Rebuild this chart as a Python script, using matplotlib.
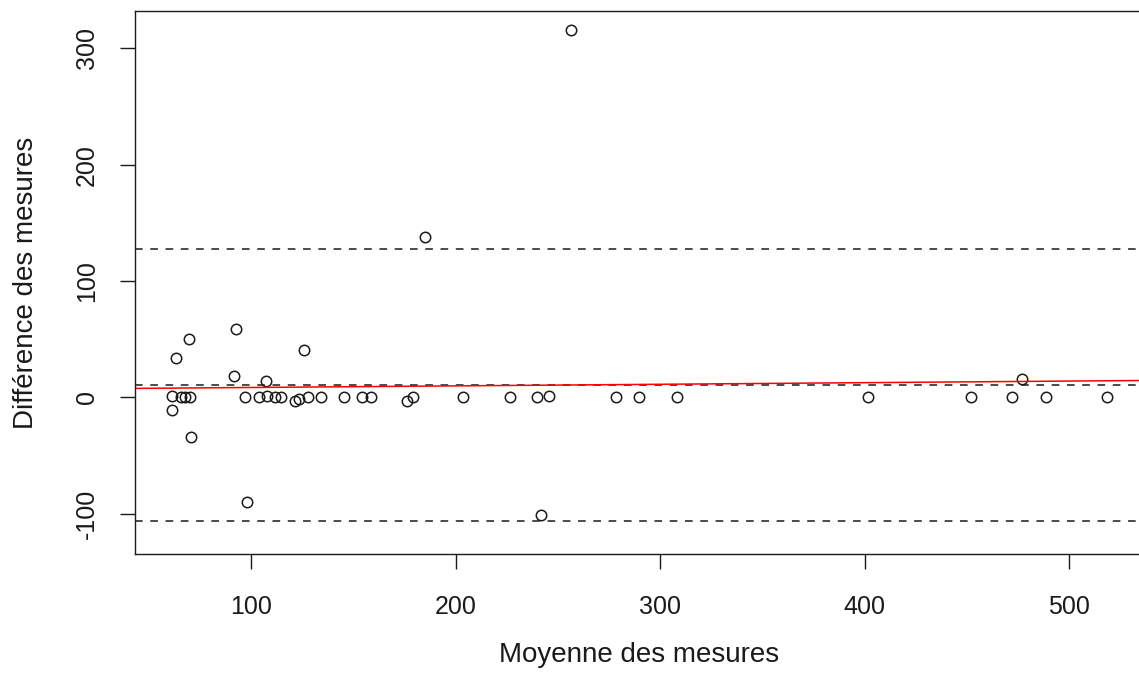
import matplotlib
matplotlib.use("Agg")
import matplotlib.pyplot as plt
import numpy as np

# Bland-Altman : moyenne vs difference des deux mesures
moyenne = [69.5, 63.3, 92.5, 125.7, 91.5, 107.3, 61.4, 65.4, 67.4, 70.0,
           61.4, 70.3, 96.9, 103.7, 107.8, 111.4, 114.3, 121.3, 123.3, 127.7,
           133.9, 145.3, 154.2, 158.7, 176.2, 179.2, 203.6, 226.7, 239.8, 245.5,
           185.2, 256.6, 241.9, 97.9, 278.4, 289.7, 308.1, 401.5, 452.1, 472.1,
           476.9, 488.7, 518.4]
difference = [49.9, 34.0, 59.0, 40.7, 18.6, 14.3, 1.1, 0, 0, 0,
              -10.9, -33.9, 0, 0, 1.0, 0, 0, -2.9, -1.0, 0,
              0, 0, 0, 0, -2.9, 0, 0, 0, 0, 1.4,
              137.8, 316.1, -101.2, -89.8, 0, 0, 0, 0, 0, 0,
              16.0, 0, 0]

biais = 10.5
lim_sup = 127.5
lim_inf = -106.4
# droite de regression des differences sur les moyennes
reg_a, reg_b = 7.1, 0.0138

plt.rcParams["font.family"] = ["Liberation Sans", "DejaVu Sans"]
plt.rcParams["axes.unicode_minus"] = False

XMIN, XMAX = 43.1, 536.7
fig = plt.figure(figsize=(11.39, 6.91), dpi=100)
# la boite depasse legerement a droite de l'image
ax = fig.add_axes([135 / 1139, 137 / 691, (1144 - 135) / 1139, 543 / 691])

ax.plot(moyenne, difference, "o", mfc="none", mec="#1a1a1a", ms=7.5, mew=1.1)

for h in (biais, lim_sup, lim_inf):
    ax.axhline(h, color="#1a1a1a", lw=1.1, ls=(0, (5, 5)))

xr = np.array([30, 600])
ax.plot(xr, reg_a + reg_b * xr, color="red", lw=1.1)

ax.set_xlim(XMIN, XMAX)
ax.set_ylim(-134.7, 332.2)
ax.set_xticks([100, 200, 300, 400, 500])
ax.set_yticks([-100, 0, 100, 200, 300])
ax.tick_params(axis="both", length=10.8, width=1.0, color="#1a1a1a",
               labelsize=18, labelcolor="#1a1a1a")
ax.tick_params(axis="x", pad=19)
ax.tick_params(axis="y", pad=15)
for lab in ax.get_yticklabels():
    lab.set_rotation(90)
    lab.set_va("center")

for s in ax.spines.values():
    s.set_linewidth(1.0)
    s.set_color("#1a1a1a")

ax.set_xlabel("Moyenne des mesures", fontsize=20, color="#1a1a1a", labelpad=16)
ax.set_ylabel("Différence des mesures", fontsize=20, color="#1a1a1a", labelpad=26)

fig.savefig("out.png", dpi=100)
